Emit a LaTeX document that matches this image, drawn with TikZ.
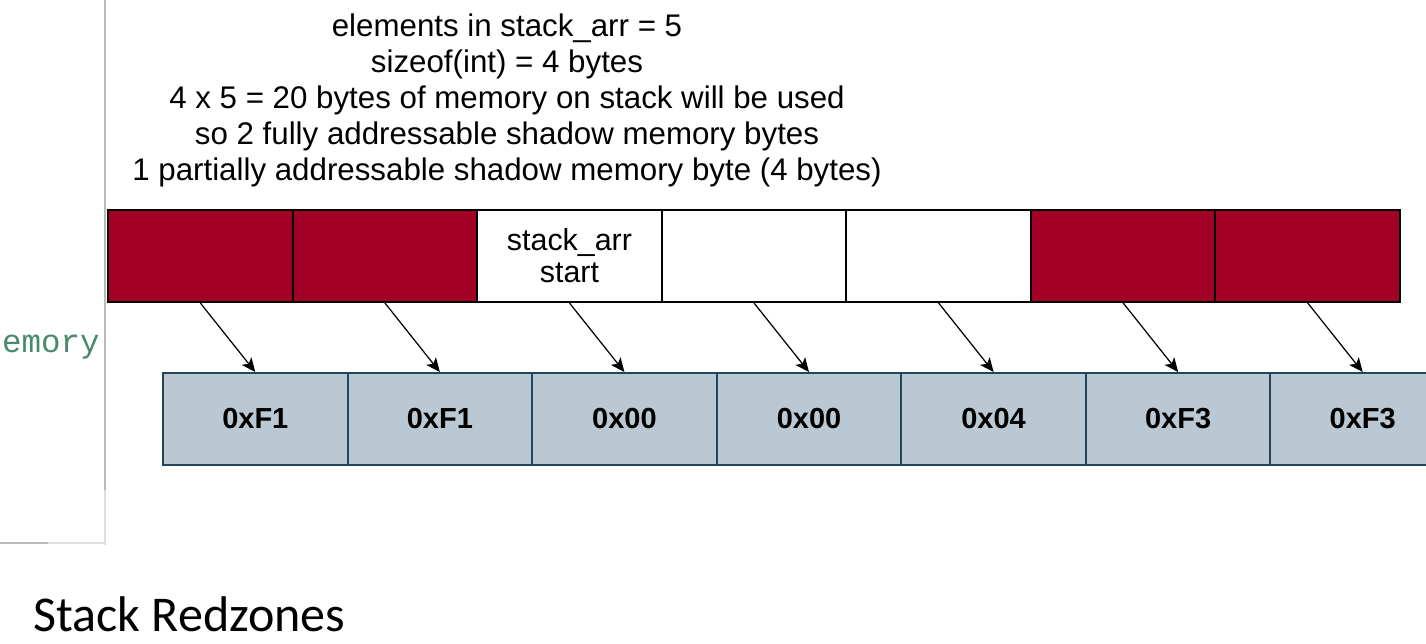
\documentclass[tikz,border=0pt]{standalone}
\usepackage{fontspec}
\setmainfont{Liberation Sans}
\newfontfamily\slidefont{Carlito}
\newfontfamily\codefont{Liberation Mono}
\usepackage{xcolor}
\usepackage{tikz}
\usetikzlibrary{shapes,arrows,arrows.meta}

\definecolor{redzone}{HTML}{A20025}
\definecolor{shadowfill}{HTML}{BAC8D3}
\definecolor{shadowline}{HTML}{23445D}
\definecolor{codegreen}{HTML}{4A8A6C}

\begin{document}
\begin{tikzpicture}[
    stackcell/.style={draw=black, line width=1.1pt, minimum width=3.6914cm, minimum height=1.84cm, inner sep=0pt, align=center, font=\fontsize{17.3}{18.2}\selectfont},
    redcell/.style={stackcell, fill=redzone},
    shadowcell/.style={draw=shadowline, fill=shadowfill, line width=1.1pt, minimum width=3.6914cm, minimum height=1.84cm, inner sep=0pt, font=\bfseries\fontsize{16.5}{18}\selectfont},
    maparrow/.style={-{Stealth[length=8pt,width=7pt,inset=2pt]}, line width=0.7pt}
  ]
   \clip (0,0) rectangle (28.52,12.86);
   % window edge on the left
   \draw[gray!55, line width=1pt] (2.1,12.86) -- (2.1,3.06);
   \draw[gray!25, line width=1pt] (2.1,3.06) -- (2.1,1.96);
   \draw[gray!55, line width=1pt] (0,2.0) -- (0.95,2.0);
   \draw[gray!25, line width=1pt] (0.95,2.0) -- (2.1,2.0);
   \node[anchor=base east, inner sep=0pt, text=codegreen, font=\codefont\fontsize{18.5}{20}\selectfont] (code) at (2.0,5.82) {emory};

   \node[align=center, font=\fontsize{17.8}{20.5}\selectfont] (info) at (10.14,10.85) {elements in stack\_arr = 5\\sizeof(int) = 4 bytes\\4 x 5 = 20 bytes of memory on stack will be used\\so 2 fully addressable shadow memory bytes\\1 partially addressable shadow memory byte (4 bytes)};

   % stack memory
   \node[redcell] (s1) at (4.006,7.74) {};
   \node[redcell] (s2) at (7.698,7.74) {};
   \node[stackcell] (s3) at (11.389,7.74) {stack\_arr\\start};
   \node[stackcell] (s4) at (15.080,7.74) {};
   \node[stackcell] (s5) at (18.772,7.74) {};
   \node[redcell] (s6) at (22.463,7.74) {};
   \node[redcell] (s7) at (26.154,7.74) {};

   % shadow memory
   \node[shadowcell] (m1) at (5.106,4.48) {0xF1};
   \node[shadowcell] (m2) at (8.797,4.48) {0xF1};
   \node[shadowcell] (m3) at (12.489,4.48) {0x00};
   \node[shadowcell] (m4) at (16.180,4.48) {0x00};
   \node[shadowcell] (m5) at (19.872,4.48) {0x04};
   \node[shadowcell] (m6) at (23.563,4.48) {0xF3};
   \node[shadowcell] (m7) at (27.254,4.48) {0xF3};

   \draw[maparrow] (s1.south) -- (m1.north);
   \draw[maparrow] (s2.south) -- (m2.north);
   \draw[maparrow] (s3.south) -- (m3.north);
   \draw[maparrow] (s4.south) -- (m4.north);
   \draw[maparrow] (s5.south) -- (m5.north);
   \draw[maparrow] (s6.south) -- (m6.north);
   \draw[maparrow] (s7.south) -- (m7.north);

   \node[anchor=base west, inner sep=0pt, font=\slidefont\fontsize{28.5}{30}\selectfont] (title) at (0.66,0.24) {Stack Redzones};
  \end{tikzpicture}
\end{document}
